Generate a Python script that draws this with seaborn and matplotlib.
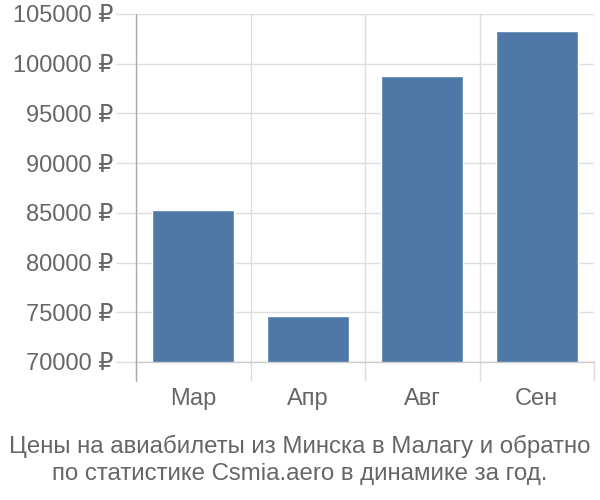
import matplotlib
matplotlib.use("Agg")
import matplotlib.pyplot as plt
import seaborn as sns
import pandas as pd
from matplotlib.ticker import FixedLocator, FuncFormatter

months = ["Мар", "Апр", "Авг", "Сен"]
prices = [85250, 74600, 98760, 103300]
y_ticks = [70000, 75000, 80000, 85000, 90000, 95000, 100000, 105000]
title_text = "Цены на авиабилеты из Минска в Малагу и обратно\nпо статистике Csmia.aero в динамике за год."

df = pd.DataFrame({"month": months, "price": prices})

sns.set_style("white")
plt.rcParams["font.family"] = ["Liberation Sans", "DejaVu Sans"]

text_color = "#666666"
grid_color = "#dddddd"

fig = plt.figure(figsize=(6, 5), dpi=100)
ax = fig.add_axes([136/600, 1-362/500, (594-136)/600, (362-14)/500])

sns.barplot(data=df, x="month", y="price", ax=ax, color="#4e79a7",
            width=0.72, saturation=1, zorder=3)

ax.set_ylim(70000, 105000)
ax.set_xlim(-0.5, len(months) - 0.5)
ax.set_yticks(y_ticks)
ax.yaxis.set_major_formatter(FuncFormatter(lambda v, p: f"{int(v)} ₽"))
ax.set_xlabel("")
ax.set_ylabel("")

ax.xaxis.set_minor_locator(FixedLocator([i - 0.5 for i in range(len(months) + 1)]))
ax.tick_params(axis="x", which="major", bottom=True, length=0, pad=18.5,
               labelsize=17, labelcolor=text_color)
ax.tick_params(axis="x", which="minor", bottom=True, length=13.7, width=1, color=grid_color)
ax.tick_params(axis="y", which="major", left=True, length=14.4, width=1, color=grid_color,
               pad=2, labelsize=17, labelcolor=text_color)

ax.grid(axis="y", which="major", color=grid_color, linewidth=1, zorder=0)
ax.grid(axis="x", which="minor", color=grid_color, linewidth=1, zorder=0)
ax.set_axisbelow(True)

for s in ["top", "right", "left"]:
    ax.spines[s].set_visible(False)
ax.spines["bottom"].set_color("#cccccc")
ax.spines["bottom"].set_linewidth(1)
ax.spines["bottom"].set_zorder(4)

ax.axvline(-0.5, ymin=-19/348, ymax=1, color="#aaaaaa", linewidth=1, clip_on=False, zorder=5)

fig.text(0.5, 1 - 460/500, title_text, ha="center", va="center",
         fontsize=17.3, color=text_color, linespacing=1.25)

fig.savefig("out.png", dpi=100)
